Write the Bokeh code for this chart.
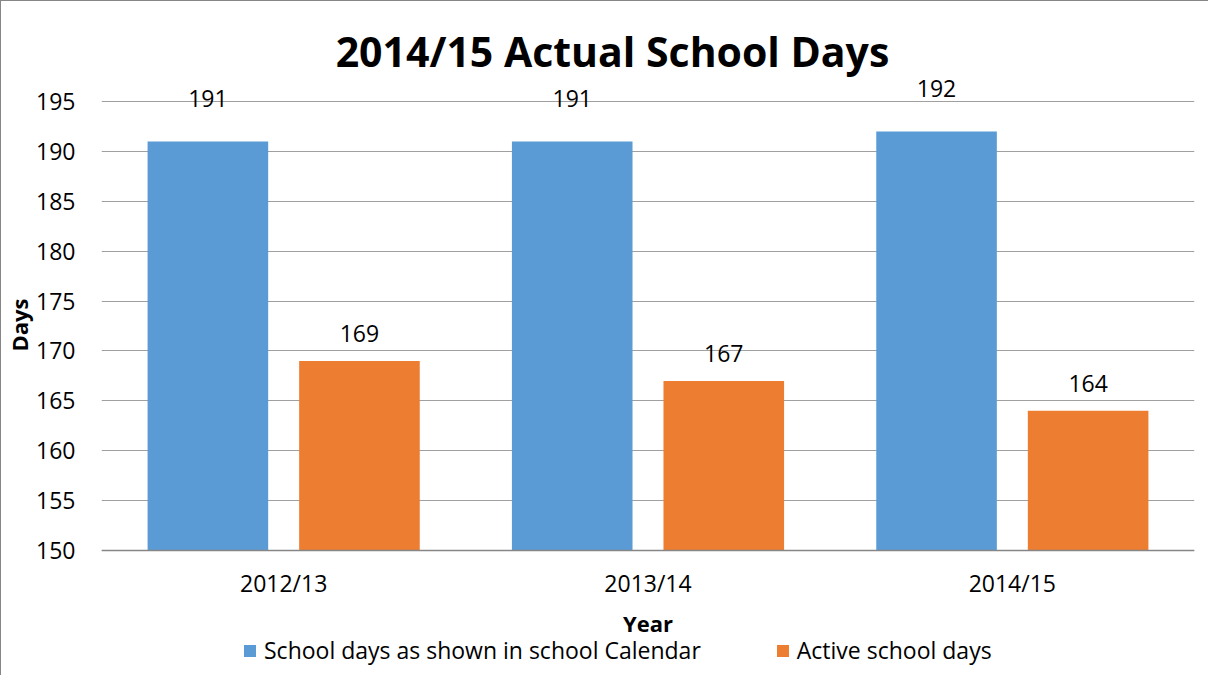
from bokeh.plotting import figure
from bokeh.models import ColumnDataSource, FactorRange, Range1d, Label, LabelSet, Legend, LegendItem, Title
from bokeh.transform import dodge
from bokeh.core.properties import value
from bokeh.embed import file_html
from bokeh.resources import INLINE

years = ["2012/13", "2013/14", "2014/15"]
calendar_days = [191, 191, 192]
active_days = [169, 167, 164]
series_names = ["School days as shown in school Calendar", "Active school days"]
y_ticks = [150, 155, 160, 165, 170, 175, 180, 185, 190, 195]
title_text = "2014/15 Actual School Days"

FONT = "Open Sans"
BLUE = "#5B9BD5"
ORANGE = "#ED7D31"
GRID = "#A0A0A0"
TXT = "23px"

# layout (pixels inside the figure); the frame fills the figure height
W, H = 1208, 675
FRAME_LEFT, FRAME_RIGHT_PAD = 98, 15
PX_195, PX_150 = 100, 549               # pixel rows of the 195 and 150 gridlines
Y0, Y1 = 150, 195
px_per_unit = (PX_150 - PX_195) / (Y1 - Y0)
y_top = Y1 + PX_195 / px_per_unit
y_bottom = Y0 - (H - PX_150) / px_per_unit

src = ColumnDataSource(dict(
    year=years,
    cal=calendar_days,
    act=active_days,
    cal_txt=[str(v) for v in calendar_days],
    act_txt=[str(v) for v in active_days],
))

p = figure(
    width=W, height=H,
    x_range=FactorRange(factors=years, range_padding=0),
    y_range=Range1d(y_bottom, y_top),
    output_backend="svg", toolbar_location=None,
    min_border_left=FRAME_LEFT, min_border_right=FRAME_RIGHT_PAD,
    min_border_top=0, min_border_bottom=0,
)
p.styles = {"border-left": "1px solid #868686", "border-top": "1px solid #868686"}
p.outline_line_color = None
p.background_fill_color = "white"
p.border_fill_color = "white"

r1 = p.vbar(x=dodge("year", -0.208, range=p.x_range), top="cal", bottom=Y0, width=0.331,
            source=src, fill_color=BLUE, line_color=None)
r2 = p.vbar(x=dodge("year", 0.208, range=p.x_range), top="act", bottom=Y0, width=0.331,
            source=src, fill_color=ORANGE, line_color=None)

p.add_layout(LabelSet(x=dodge("year", -0.208, range=p.x_range), y="cal", text="cal_txt", source=src,
                      y_offset=34, text_align="center", text_baseline="bottom",
                      text_font=value(FONT), text_font_size=value(TXT), text_color=value("black")))
p.add_layout(LabelSet(x=dodge("year", 0.208, range=p.x_range), y="act", text="act_txt", source=src,
                      y_offset=19, text_align="center", text_baseline="bottom",
                      text_font=value(FONT), text_font_size=value(TXT), text_color=value("black")))

# y axis
p.yaxis.ticker = y_ticks
p.yaxis.major_label_text_font = FONT
p.yaxis.major_label_text_font_size = TXT
p.yaxis.major_label_text_color = "black"
p.yaxis.major_label_standoff = 20
p.yaxis.axis_line_color = None
p.yaxis.major_tick_line_color = None
p.yaxis.minor_tick_line_color = None

p.add_layout(Title(text="Days", align="left", offset=H - 350, standoff=0,
                   text_font=FONT, text_font_size="22px", text_font_style="bold",
                   text_color="black"), "left")

# x axis, pinned to the 150 baseline inside the frame
p.xaxis.fixed_location = Y0
p.xaxis.axis_label = "Year"
p.xaxis.axis_label_text_font = FONT
p.xaxis.axis_label_text_font_style = "bold"
p.xaxis.axis_label_text_font_size = "22px"
p.xaxis.axis_label_text_color = "black"
p.xaxis.axis_label_standoff = 6
p.xaxis.major_label_text_font = FONT
p.xaxis.major_label_text_font_size = TXT
p.xaxis.major_label_text_color = "black"
p.xaxis.major_label_standoff = 10
p.xaxis.axis_line_color = "#868686"
p.xaxis.axis_line_width = 1.5
p.xaxis.major_tick_line_color = None
p.xaxis.minor_tick_line_color = None

p.xgrid.grid_line_color = None
p.ygrid.grid_line_color = GRID
p.ygrid.grid_line_width = 1.2

# chart title, centred on the whole chart area
p.add_layout(Label(x=511, y=Y1 + (PX_195 - 49) / px_per_unit, x_units="screen", y_units="data",
                   text=title_text, text_align="center", text_baseline="middle", text_font=FONT,
                   text_font_style="bold", text_font_size="41px", text_color="black"))

legend = Legend(items=[LegendItem(label=series_names[0], renderers=[r1]),
                       LegendItem(label=series_names[1], renderers=[r2])],
                location=(141, 10), orientation="horizontal",
                glyph_width=15, glyph_height=15, label_standoff=7, spacing=74,
                padding=0, margin=0, border_line_color=None, background_fill_alpha=0,
                label_text_font=FONT, label_text_font_size=TXT, label_text_color="black")
p.add_layout(legend, "center")

open("out.html", "w").write(file_html(p, INLINE))
